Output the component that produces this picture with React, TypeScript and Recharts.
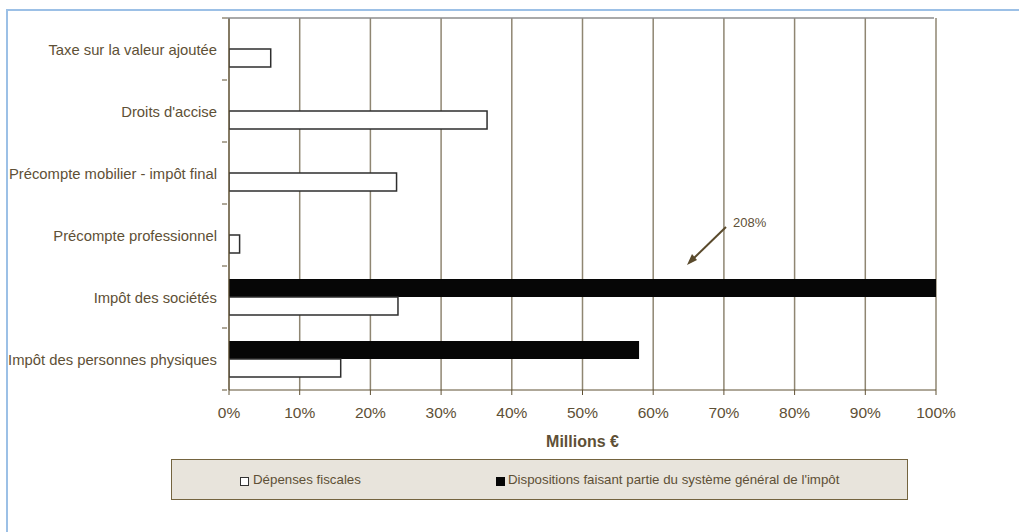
import { BarChart, Bar, XAxis, YAxis, CartesianGrid } from "recharts";

const CATEGORIES = [
  "Taxe sur la valeur ajoutée",
  "Droits d'accise",
  "Précompte mobilier - impôt final",
  "Précompte professionnel",
  "Impôt des sociétés",
  "Impôt des personnes physiques",
];
// share in %, Dépenses fiscales (white bars)
const DEPENSES = [5.9, 36.5, 23.7, 1.5, 23.9, 15.8];
// share in %, Dispositions faisant partie du système général (black bars); IS runs off the scale
const DISPOSITIONS = [null, null, null, null, 208, 58.0];
const X_TICKS = [0, 10, 20, 30, 40, 50, 60, 70, 80, 90, 100];
const SERIES = ["Dépenses fiscales", "Dispositions faisant partie du système général de l'impôt"];
const OVERFLOW_LABEL = "208%";

const TEXT = "#5e5036";
const AXIS = "#5f5033";
const GRID = "#8f8672";
const FONT = "'Liberation Sans', Arial, sans-serif";

const data = CATEGORIES.map((c, i) => ({ category: c, dep: DEPENSES[i], disp: DISPOSITIONS[i] }));

// category label plus small tick marks on the band edges (Excel style)
function CategoryTick(props: any) {
  const { x, y, payload, index, visibleTicksCount, height } = props;
  const half = payload.offset ?? height / visibleTicksCount / 2;
  const ax = x + 6;
  return (
    <g>
      <line x1={ax - 5} x2={ax} y1={y - half} y2={y - half} stroke={AXIS} />
      {index === 0 && <line x1={ax} x2={ax + 707} y1={y - half} y2={y - half} stroke="#8c8c8c" strokeWidth={1.5} />}
      {index === visibleTicksCount - 1 && <line x1={ax - 5} x2={ax} y1={y + half} y2={y + half} stroke={AXIS} />}
      <text x={x - 4} y={y} dy={6} textAnchor="end" fill={TEXT} fontSize={14.8} fontFamily={FONT}>
        {payload.value}
      </text>
    </g>
  );
}

export default function App() {
  return (
    <div style={{ position: "absolute", left: 0, top: 0, width: 1019, height: 532, background: "#fff", fontFamily: FONT }}>
      <div style={{ position: "absolute", left: 6, top: 9, right: 0, bottom: 0, borderTop: "2px solid #9cc0e6", borderLeft: "2px solid #9cc0e6" }} />
      <BarChart
        width={1019}
        height={532}
        data={data}
        layout="vertical"
        margin={{ top: 18, right: 83, left: 6, bottom: 82 }}
        barSize={18}
        barGap={0}
        style={{ position: "absolute", left: 0, top: 0 }}
      >
        <CartesianGrid horizontal={false} stroke={GRID} strokeWidth={1.5} />
        <XAxis
          type="number"
          domain={[0, 100]}
          ticks={X_TICKS}
          allowDataOverflow
          interval={0}
          height={60}
          stroke={AXIS}
          tickSize={5}
          tickMargin={12}
          tickFormatter={(v) => `${v}%`}
          tick={{ fill: TEXT, fontSize: 15.5, fontFamily: FONT }}
          label={{ value: "Millions €", position: "insideBottom", offset: 3, fill: TEXT, fontSize: 16, fontWeight: "bold", fontFamily: FONT }}
        />
        <YAxis type="category" dataKey="category" width={223} stroke={AXIS} tickLine={false} tick={<CategoryTick />} interval={0} />
        <Bar dataKey="disp" name={SERIES[1]} fill="#060606" isAnimationActive={false} />
        <Bar dataKey="dep" name={SERIES[0]} fill="#ffffff" stroke="#2e2e2e" strokeWidth={1.5} isAnimationActive={false} />
      </BarChart>

      <svg width={1019} height={532} style={{ position: "absolute", left: 0, top: 0, pointerEvents: "none" }}>
        <line x1={726} y1={227} x2={693} y2={259} stroke="#5a4a2c" strokeWidth={2} />
        <polygon points="687,265 697,260 692,254" fill="#5a4a2c" />
        <text x={733} y={227} fill={TEXT} fontSize={13} fontFamily={FONT}>{OVERFLOW_LABEL}</text>
      </svg>

      <div
        style={{
          position: "absolute", left: 171, top: 459, width: 737, height: 41, boxSizing: "border-box",
          background: "#e8e4dc", border: "1px solid #74643f", color: TEXT, fontSize: 13.3,
        }}
      >
        <div style={{ position: "absolute", left: 68, top: 17, width: 9, height: 9, boxSizing: "border-box", background: "#fff", border: "1.5px solid #333" }} />
        <span style={{ position: "absolute", left: 81, top: 12 }}>{SERIES[0]}</span>
        <div style={{ position: "absolute", left: 324, top: 17, width: 9, height: 9, background: "#060606" }} />
        <span style={{ position: "absolute", left: 336, top: 12 }}>{SERIES[1]}</span>
      </div>
    </div>
  );
}
